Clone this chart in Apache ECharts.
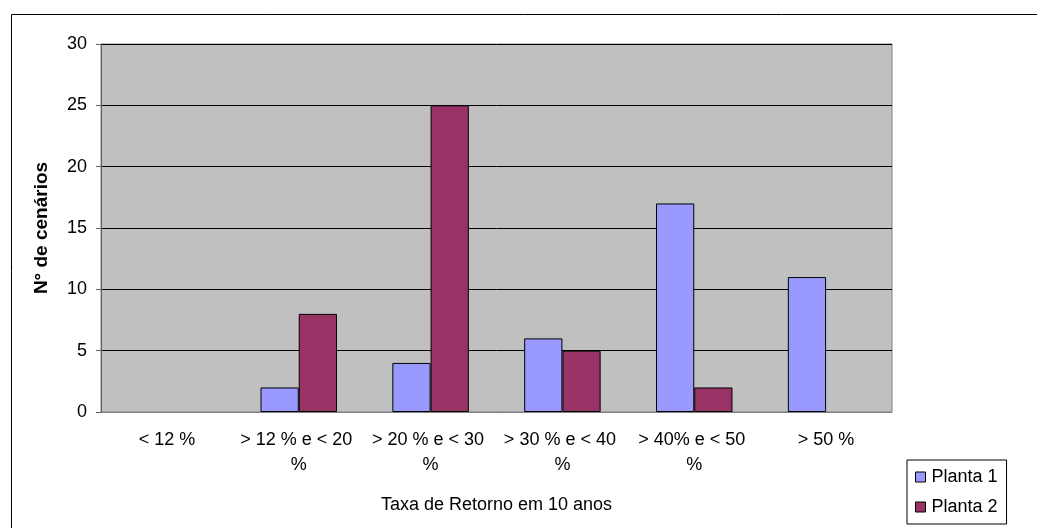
<!DOCTYPE html>
<html>
<head>
<meta charset="utf-8">
<script src="https://cdn.jsdelivr.net/npm/echarts@6/dist/echarts.min.js"></script>
<style>
  html, body { margin: 0; padding: 0; background: #ffffff; }
  #chart { width: 1037px; height: 528px; }
</style>
</head>
<body>
<div id="chart"></div>
<script>
// Return-rate bands over 10 years and number of scenarios per plant
const categories = ['< 12 %', '> 12 % e < 20 %', '> 20 % e < 30 %', '> 30 % e < 40 %', '> 40% e < 50 %', '> 50 %'];
const planta1 = [0, 2, 4, 6, 17, 11];
const planta2 = [0, 8, 25, 5, 2, 0];
const seriesNames = ['Planta 1', 'Planta 2'];
const yTicks = { min: 0, max: 30, interval: 5 };

const FONT = 'Liberation Sans, Arial, sans-serif';
const chart = echarts.init(document.getElementById('chart'));

// zero-height bars get no outline so they leave no stray line on the axis
const toBarData = values => values.map(v => v === 0 ? { value: v, itemStyle: { borderWidth: 0 } } : v);

chart.setOption({
  animation: false,
  textStyle: { fontFamily: FONT, color: '#000' },
  graphic: [
    {
      type: 'rect',
      left: 9, top: 12,
      shape: { width: 1200, height: 800 },
      style: { fill: 'none', stroke: '#000', lineWidth: 1 },
      z: -10
    }
  ],
  grid: {
    left: 101, top: 44, right: 145, bottom: 116,
    show: true,
    backgroundColor: '#C0C0C0',
    borderColor: '#808080',
    borderWidth: 1
  },
  legend: {
    data: seriesNames,
    orient: 'vertical',
    left: 907, top: 460,
    padding: [8, 9, 8, 8],
    itemWidth: 10, itemHeight: 10,
    itemGap: 12,
    icon: 'rect',
    borderColor: '#000',
    borderWidth: 1,
    backgroundColor: '#fff',
    itemStyle: { borderColor: '#000', borderWidth: 1 },
    textStyle: { fontFamily: FONT, fontSize: 18, color: '#000', lineHeight: 18, padding: [0, 0, 0, 1] }
  },
  xAxis: {
    type: 'category',
    data: categories,
    name: 'Taxa de Retorno em 10 anos',
    nameLocation: 'middle',
    nameGap: 84,
    nameTextStyle: { fontFamily: FONT, fontSize: 18, color: '#000' },
    axisLine: { lineStyle: { color: '#808080', width: 1 } },
    axisTick: { show: false },
    axisLabel: {
      interval: 0,
      fontFamily: FONT, fontSize: 18, color: '#000',
      lineHeight: 25,
      margin: 16,
      width: 126,
      overflow: 'break'
    },
    splitLine: { show: false }
  },
  yAxis: {
    type: 'value',
    min: yTicks.min, max: yTicks.max, interval: yTicks.interval,
    name: 'N° de cenários',
    nameLocation: 'middle',
    nameGap: 50,
    nameTextStyle: { fontFamily: FONT, fontSize: 19, fontWeight: 'bold', color: '#000' },
    axisLine: { show: true, lineStyle: { color: '#606060', width: 1 } },
    axisTick: { show: true, length: 5, lineStyle: { color: '#606060' } },
    axisLabel: { fontFamily: FONT, fontSize: 18, color: '#000', margin: 14 },
    splitLine: { show: true, lineStyle: { color: '#000', width: 1 } }
  },
  series: [
    {
      name: seriesNames[0],
      type: 'bar',
      data: toBarData(planta1),
      barGap: '0%',
      barCategoryGap: '42%',
      itemStyle: { color: '#9999FF', borderColor: '#000', borderWidth: 1 }
    },
    {
      name: seriesNames[1],
      type: 'bar',
      data: toBarData(planta2),
      barGap: '0%',
      barCategoryGap: '42%',
      itemStyle: { color: '#993366', borderColor: '#000', borderWidth: 1 }
    }
  ]
});
</script>
</body>
</html>
